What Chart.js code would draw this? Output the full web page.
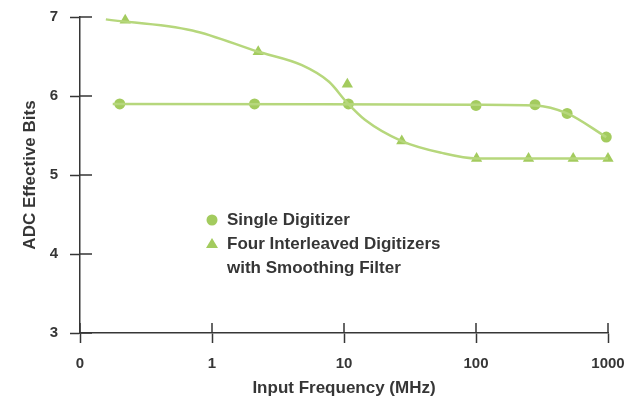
<!DOCTYPE html>
<html>
<head>
<meta charset="utf-8">
<script src="https://cdn.jsdelivr.net/npm/chart.js@4/dist/chart.umd.min.js"></script>
<style>
  html, body { margin: 0; padding: 0; background: #fff; }
  #wrap { width: 631px; height: 399px; }
</style>
</head>
<body>
<div id="wrap"><canvas id="adcChart"></canvas></div>
<script>
// values (x in MHz, log axis; "0" sits at 0.1)
const xTickValues = [0.1, 1, 10, 100, 1000];
const xTickLabels = ['0', '1', '10', '100', '1000'];
const yTickValues = [3, 4, 5, 6, 7];

const singleFreq = [0.2, 2.1, 10.8, 100, 280, 490, 970];
const singleBits = [5.9, 5.9, 5.9, 5.88, 5.89, 5.78, 5.48];

const interFreq = [0.22, 2.24, 10.6, 27.4, 101, 250, 545, 1000];
const interBits = [6.96, 6.56, 6.15, 5.43, 5.21, 5.21, 5.21, 5.21];

// fitted curves as drawn in the figure
const singleCurveFreq = [0.177, 104, 280, 490, 970];
const singleCurveBits = [5.9, 5.89, 5.88, 5.78, 5.48];

const interCurveFreq = [0.157, 0.71, 2.24, 4.8, 7.7, 10.5, 14.4, 27.4, 55, 101, 1000];
const interCurveBits = [6.97, 6.83, 6.56, 6.39, 6.18, 5.92, 5.70, 5.43, 5.28, 5.21, 5.21];

const legendLabels = ['Single Digitizer', 'Four Interleaved Digitizers', 'with Smoothing Filter'];

const pointGreen = '#a3cb5e';
const lineGreen = '#b6d77c';
const inkColor = '#363636';
const fontFamily = '"Liberation Sans", Arial, Helvetica, sans-serif';

function toPoints(xs, ys) {
    return xs.map((x, i) => ({ x: x, y: ys[i] }));
}

// draws the part of each tick mark that crosses into the plot
const innerTicks = {
    id: 'innerTicks',
    afterDatasetsDraw(chart) {
        const ctx = chart.ctx;
        const area = chart.chartArea;
        const xs = chart.scales.x;
        const ys = chart.scales.y;
        ctx.save();
        ctx.strokeStyle = inkColor;
        ctx.lineWidth = 1.5;
        ctx.beginPath();
        xs.ticks.forEach(t => {
            const px = xs.getPixelForValue(t.value);
            ctx.moveTo(px, area.bottom);
            ctx.lineTo(px, area.bottom - 10);
        });
        ys.ticks.forEach(t => {
            const py = ys.getPixelForValue(t.value);
            ctx.moveTo(area.left, py);
            ctx.lineTo(area.left + 12, py);
        });
        ctx.stroke();
        ctx.restore();
    }
};

// legend box inside the plot, third line is a continuation of the second
const insideLegend = {
    id: 'insideLegend',
    afterDraw(chart) {
        const ctx = chart.ctx;
        const area = chart.chartArea;
        const mx = area.left + 132;
        const tx = area.left + 147;
        const rows = [area.top + 203, area.top + 227, area.top + 251];
        ctx.save();
        ctx.fillStyle = pointGreen;
        ctx.beginPath();
        ctx.arc(mx, rows[0], 5.5, 0, Math.PI * 2);
        ctx.fill();
        ctx.beginPath();
        ctx.moveTo(mx, rows[1] - 6);
        ctx.lineTo(mx + 6, rows[1] + 4);
        ctx.lineTo(mx - 6, rows[1] + 4);
        ctx.closePath();
        ctx.fill();
        ctx.fillStyle = inkColor;
        ctx.font = 'bold 17px ' + fontFamily;
        ctx.textBaseline = 'middle';
        ctx.textAlign = 'left';
        legendLabels.forEach((txt, i) => ctx.fillText(txt, tx, rows[i]));
        ctx.restore();
    }
};

new Chart(document.getElementById('adcChart'), {
    type: 'scatter',
    data: {
        datasets: [{
            label: 'Single Digitizer curve',
            data: toPoints(singleCurveFreq, singleCurveBits),
            showLine: true,
            borderColor: lineGreen,
            borderWidth: 2.5,
            pointRadius: 0,
            cubicInterpolationMode: 'monotone',
            clip: false
        }, {
            label: 'Interleaved curve',
            data: toPoints(interCurveFreq, interCurveBits),
            showLine: true,
            borderColor: lineGreen,
            borderWidth: 2.5,
            pointRadius: 0,
            cubicInterpolationMode: 'monotone',
            clip: false
        }, {
            label: 'Single Digitizer',
            data: toPoints(singleFreq, singleBits),
            pointStyle: 'circle',
            pointRadius: 5.5,
            backgroundColor: pointGreen,
            borderColor: pointGreen,
            borderWidth: 0,
            clip: false
        }, {
            label: 'Four Interleaved Digitizers with Smoothing Filter',
            data: toPoints(interFreq, interBits),
            pointStyle: 'triangle',
            pointRadius: 6.5,
            backgroundColor: pointGreen,
            borderColor: pointGreen,
            borderWidth: 0,
            clip: false
        }]
    },
    options: {
        responsive: true,
        maintainAspectRatio: false,
        animation: false,
        events: [],
        layout: { padding: { top: 17, right: 23, bottom: 0, left: 0 } },
        plugins: {
            legend: { display: false },
            tooltip: { enabled: false }
        },
        scales: {
            x: {
                type: 'logarithmic',
                min: 0.1,
                max: 1000,
                afterBuildTicks: scale => {
                    scale.ticks = xTickValues.map(v => ({ value: v }));
                },
                afterFit: scale => {
                    scale.height = 66;
                    scale.paddingLeft = 0;
                    scale.paddingRight = 0;
                },
                ticks: {
                    autoSkip: false,
                    maxRotation: 0,
                    padding: 12,
                    color: inkColor,
                    font: { family: fontFamily, size: 15, weight: 'bold' },
                    callback: (v, i) => xTickLabels[i]
                },
                grid: {
                    drawOnChartArea: false,
                    tickLength: 10,
                    tickWidth: 1.5,
                    tickColor: inkColor
                },
                border: { display: true, color: inkColor, width: 1.5 },
                title: {
                    display: true,
                    text: 'Input Frequency (MHz)',
                    color: inkColor,
                    padding: { top: 0, bottom: 0 },
                    font: { family: fontFamily, size: 17, weight: 'bold' }
                }
            },
            y: {
                min: 3,
                max: 7,
                afterBuildTicks: scale => {
                    scale.ticks = yTickValues.map(v => ({ value: v }));
                },
                afterFit: scale => {
                    scale.width = 80;
                    scale.paddingTop = 0;
                    scale.paddingBottom = 0;
                },
                ticks: {
                    padding: 12,
                    color: inkColor,
                    font: { family: fontFamily, size: 15, weight: 'bold' }
                },
                grid: {
                    drawOnChartArea: false,
                    tickLength: 10,
                    tickWidth: 1.5,
                    tickColor: inkColor
                },
                border: { display: true, color: inkColor, width: 1.5 },
                title: {
                    display: true,
                    text: 'ADC Effective Bits',
                    color: inkColor,
                    padding: { top: 20, bottom: 0 },
                    font: { family: fontFamily, size: 17, weight: 'bold' }
                }
            }
        }
    },
    plugins: [innerTicks, insideLegend]
});
</script>
</body>
</html>
